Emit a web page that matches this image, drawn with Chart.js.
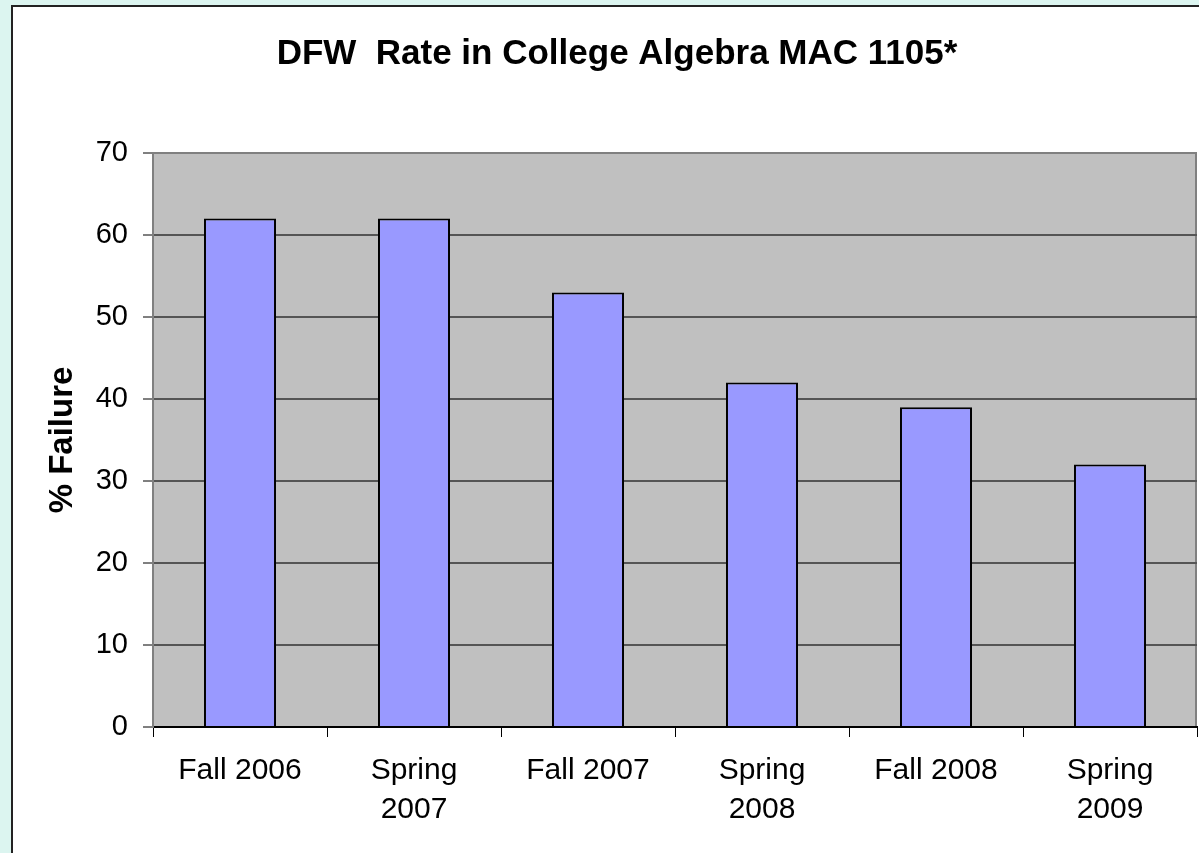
<!DOCTYPE html>
<html>
<head>
<meta charset="utf-8">
<script src="https://cdn.jsdelivr.net/npm/chart.js@4"></script>
<style>
  html, body { margin: 0; padding: 0; background: #dcf5f0; overflow: hidden; }
  #frame {
    position: absolute; left: 11px; top: 5px;
    width: 1188px; height: 848px;
    border-left: 2px solid #222; border-top: 2px solid #222;
    background: #fff;
  }
  canvas { display: block; }
</style>
</head>
<body>
<div id="frame"><canvas id="dfwChart" width="1186" height="846"></canvas></div>
<script>
// Data
const terms = ["Fall 2006", ["Spring", "2007"], "Fall 2007", ["Spring", "2008"], "Fall 2008", ["Spring", "2009"]];
const failureRates = [62, 62, 53, 42, 39, 32];
const yTicks = [0, 10, 20, 30, 40, 50, 60, 70];

const FONT = "'Liberation Sans', Arial, sans-serif";

// Gray plot background and right edge, like the old Excel chart
const plotArea = {
  id: "plotArea",
  beforeDraw(chart) {
    const { ctx, chartArea: a } = chart;
    ctx.save();
    ctx.fillStyle = "#c0c0c0";
    ctx.fillRect(a.left, a.top, a.right - a.left, a.bottom - a.top);
    ctx.strokeStyle = "#808080";
    ctx.lineWidth = 2;
    ctx.beginPath();
    ctx.moveTo(a.right - 1, a.top);
    ctx.lineTo(a.right - 1, a.bottom);
    ctx.stroke();
    ctx.restore();
  },
};

const ctx = document.getElementById("dfwChart").getContext("2d");
Chart.defaults.color = "#000";
Chart.defaults.font.family = FONT;

const dfwChart = new Chart(ctx, {
  type: "bar",
  data: {
    labels: terms,
    datasets: [
      {
        label: "% Failure",
        data: failureRates,
        backgroundColor: "#9999ff",
        borderColor: "#000",
        borderWidth: 2,
        borderSkipped: "start",
        barPercentage: 0.414,
        categoryPercentage: 1,
      },
    ],
  },
  options: {
    responsive: false,
    animation: false,
    devicePixelRatio: 1,
    // left padding pushes the title centre right, y axis width compensates
    layout: { padding: { right: 2, left: 24, top: 0, bottom: 0 } },
    plugins: {
      legend: { display: false },
      tooltip: { enabled: false },
      title: {
        display: true,
        text: "DFW  Rate in College Algebra MAC 1105*",
        color: "#000",
        font: { size: 35, weight: "bold", family: FONT },
        padding: { top: 26, bottom: 78 },
      },
    },
    scales: {
      x: {
        afterFit(scale) {
          scale.height = 126;
        },
        grid: {
          offset: true,
          drawOnChartArea: false,
          drawTicks: true,
          tickLength: 10,
          tickColor: "#000",
          tickWidth: 1,
        },
        border: { color: "#000", width: 2 },
        ticks: {
          maxRotation: 0,
          autoSkip: false,
          padding: 14,
          font: { size: 30, lineHeight: 1.3 },
        },
      },
      y: {
        min: 0,
        max: 70,
        afterFit(scale) {
          scale.width = 116;
        },
        afterBuildTicks(scale) {
          scale.ticks = yTicks.map((v) => ({ value: v }));
        },
        grid: {
          color: (c) => (c.tick && c.tick.value === 70 ? "#808080" : "#555"),
          lineWidth: 2,
          tickLength: 10,
          tickColor: "#000",
          tickWidth: 1,
        },
        border: { color: "#808080", width: 2 },
        ticks: {
          padding: 15,
          font: { size: 29 },
        },
        title: {
          display: true,
          text: "% Failure",
          font: { size: 33, weight: "bold" },
          padding: { top: 6, bottom: 0 },
        },
      },
    },
  },
  plugins: [plotArea],
});
</script>
</body>
</html>
